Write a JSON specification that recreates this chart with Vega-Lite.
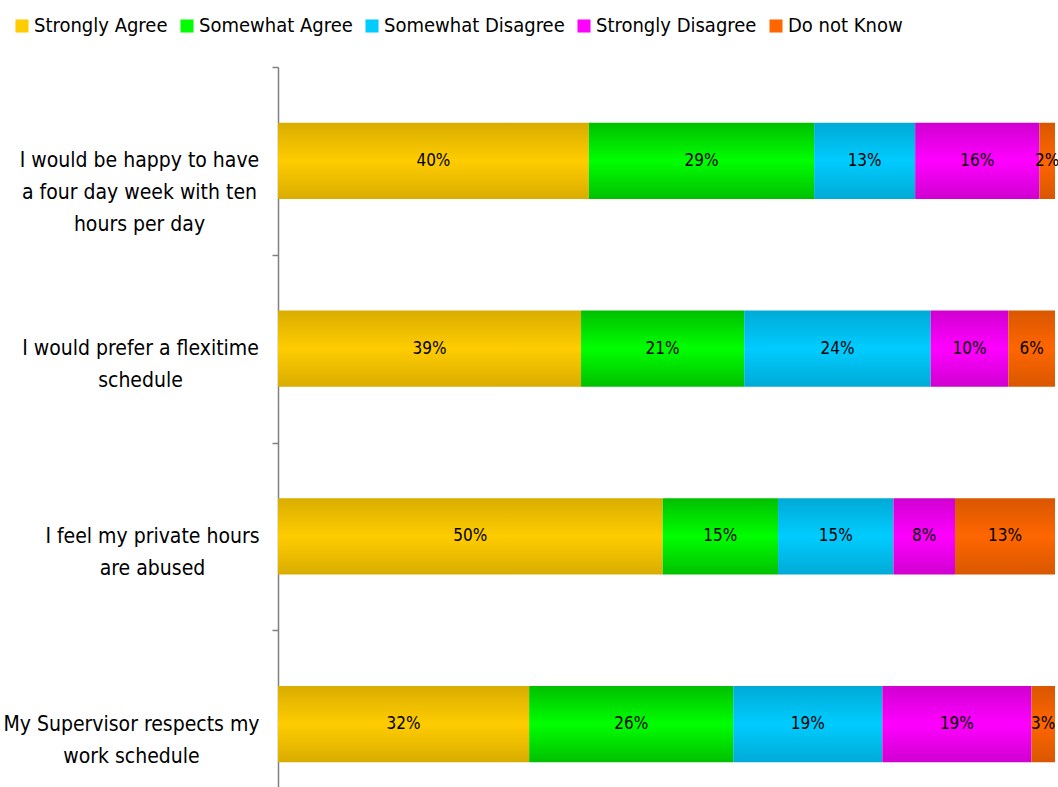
{
  "$schema": "https://vega.github.io/schema/vega-lite/v6.json",
  "autosize": {"type": "none"},
  "padding": {"left": 278, "top": 67, "right": 3, "bottom": 0},
  "width": 777,
  "height": 751,
  "background": "white",
  "config": {"view": {"stroke": null}, "font": "DejaVu Sans Condensed"},
  "data": {
    "values": [
      {"question": "I would be happy to have a four day week with ten hours per day", "response": "Strongly Agree", "k": 1, "pct": 0.40},
      {"question": "I would be happy to have a four day week with ten hours per day", "response": "Somewhat Agree", "k": 2, "pct": 0.29},
      {"question": "I would be happy to have a four day week with ten hours per day", "response": "Somewhat Disagree", "k": 3, "pct": 0.13},
      {"question": "I would be happy to have a four day week with ten hours per day", "response": "Strongly Disagree", "k": 4, "pct": 0.16},
      {"question": "I would be happy to have a four day week with ten hours per day", "response": "Do not Know", "k": 5, "pct": 0.02},
      {"question": "I would prefer a flexitime schedule", "response": "Strongly Agree", "k": 1, "pct": 0.39},
      {"question": "I would prefer a flexitime schedule", "response": "Somewhat Agree", "k": 2, "pct": 0.21},
      {"question": "I would prefer a flexitime schedule", "response": "Somewhat Disagree", "k": 3, "pct": 0.24},
      {"question": "I would prefer a flexitime schedule", "response": "Strongly Disagree", "k": 4, "pct": 0.10},
      {"question": "I would prefer a flexitime schedule", "response": "Do not Know", "k": 5, "pct": 0.06},
      {"question": "I feel my private hours are abused", "response": "Strongly Agree", "k": 1, "pct": 0.50},
      {"question": "I feel my private hours are abused", "response": "Somewhat Agree", "k": 2, "pct": 0.15},
      {"question": "I feel my private hours are abused", "response": "Somewhat Disagree", "k": 3, "pct": 0.15},
      {"question": "I feel my private hours are abused", "response": "Strongly Disagree", "k": 4, "pct": 0.08},
      {"question": "I feel my private hours are abused", "response": "Do not Know", "k": 5, "pct": 0.13},
      {"question": "My Supervisor respects my work schedule", "response": "Strongly Agree", "k": 1, "pct": 0.32},
      {"question": "My Supervisor respects my work schedule", "response": "Somewhat Agree", "k": 2, "pct": 0.26},
      {"question": "My Supervisor respects my work schedule", "response": "Somewhat Disagree", "k": 3, "pct": 0.19},
      {"question": "My Supervisor respects my work schedule", "response": "Strongly Disagree", "k": 4, "pct": 0.19},
      {"question": "My Supervisor respects my work schedule", "response": "Do not Know", "k": 5, "pct": 0.03}
    ]
  },
  "transform": [
    {"stack": "pct", "groupby": ["question"], "sort": [{"field": "k", "order": "ascending"}], "offset": "normalize", "as": ["x0", "x1"]},
    {"calculate": "(datum.x0 + datum.x1) / 2", "as": "xm"}
  ],
  "encoding": {
    "y": {
      "field": "question",
      "type": "nominal",
      "sort": [
        "I would be happy to have a four day week with ten hours per day",
        "I would prefer a flexitime schedule",
        "I feel my private hours are abused",
        "My Supervisor respects my work schedule"
      ],
      "scale": {"paddingInner": 0, "paddingOuter": 0},
      "axis": {
        "title": null,
        "orient": "left",
        "domainColor": "#808080",
        "domainWidth": 1.5,
        "tickBand": "extent",
        "tickColor": "#808080",
        "tickWidth": 1.5,
        "tickSize": 6,
        "labelAlign": "center",
        "labelBaseline": "middle",
        "labelPadding": {
          "condition": [
            {"test": "datum.value === 'I would prefer a flexitime schedule'", "value": 132},
            {"test": "datum.value === 'I feel my private hours are abused'", "value": 120},
            {"test": "datum.value === 'My Supervisor respects my work schedule'", "value": 141}
          ],
          "value": 133
        },
        "labelFont": "DejaVu Sans Condensed",
        "labelFontSize": 21,
        "labelLineHeight": 32,
        "labelColor": "#000000",
        "labelLimit": 0,
        "labelExpr": "{'I would be happy to have a four day week with ten hours per day': ['I would be happy to have', 'a four day week with ten', 'hours per day'], 'I would prefer a flexitime schedule': ['I would prefer a flexitime', 'schedule'], 'I feel my private hours are abused': ['I feel my private hours', 'are abused'], 'My Supervisor respects my work schedule': ['My Supervisor respects my', 'work schedule']}[datum.value]"
      }
    }
  },
  "layer": [
    {
      "mark": {
        "type": "bar",
        "height": {"band": 0.405},
        "fill": {"expr": "{gradient: 'linear', x1: 0, y1: 0, x2: 0, y2: 1, stops: [{offset: 0, color: {'Strongly Agree': '#d9ad00', 'Somewhat Agree': '#00c000', 'Somewhat Disagree': '#00aad6', 'Strongly Disagree': '#d000d0', 'Do not Know': '#d95700'}[datum.response]}, {offset: 0.5, color: {'Strongly Agree': '#ffcc00', 'Somewhat Agree': '#00ff00', 'Somewhat Disagree': '#00ccff', 'Strongly Disagree': '#ff00ff', 'Do not Know': '#ff6600'}[datum.response]}, {offset: 1, color: {'Strongly Agree': '#d9ad00', 'Somewhat Agree': '#00c000', 'Somewhat Disagree': '#00aad6', 'Strongly Disagree': '#d000d0', 'Do not Know': '#d95700'}[datum.response]}]}"}
      },
      "encoding": {
        "x": {"field": "x0", "type": "quantitative", "scale": {"domain": [0, 1], "nice": false}, "axis": null},
        "x2": {"field": "x1"}
      }
    },
    {
      "mark": {"type": "bar", "height": {"band": 0.405}, "opacity": 0},
      "encoding": {
        "x": {"field": "x0", "type": "quantitative"},
        "x2": {"field": "x1"},
        "color": {
          "field": "response",
          "type": "nominal",
          "scale": {
            "domain": ["Strongly Agree", "Somewhat Agree", "Somewhat Disagree", "Strongly Disagree", "Do not Know"],
            "range": ["#ffcc00", "#00ff00", "#00ccff", "#ff00ff", "#ff6600"]
          },
          "legend": {
            "orient": "none",
            "legendX": -266,
            "legendY": -51,
            "direction": "horizontal",
            "title": null,
            "symbolType": "square",
            "symbolSize": 170,
            "symbolStrokeWidth": 0,
            "symbolOpacity": 1,
            "labelFont": "DejaVu Sans Condensed",
            "labelFontSize": 20,
            "labelColor": "#000000",
            "labelOffset": 2,
            "labelLimit": 0,
            "columnPadding": 9,
            "encode": {
              "symbols": {
                "update": {
                  "opacity": {"value": 1},
                  "fill": {"signal": "{gradient: 'linear', x1: 0, y1: 0, x2: 0, y2: 1, stops: [{offset: 0, color: {'Strongly Agree': '#d9ad00', 'Somewhat Agree': '#00c000', 'Somewhat Disagree': '#00aad6', 'Strongly Disagree': '#d000d0', 'Do not Know': '#d95700'}[datum.value]}, {offset: 0.5, color: {'Strongly Agree': '#ffcc00', 'Somewhat Agree': '#00ff00', 'Somewhat Disagree': '#00ccff', 'Strongly Disagree': '#ff00ff', 'Do not Know': '#ff6600'}[datum.value]}, {offset: 1, color: {'Strongly Agree': '#d9ad00', 'Somewhat Agree': '#00c000', 'Somewhat Disagree': '#00aad6', 'Strongly Disagree': '#d000d0', 'Do not Know': '#d95700'}[datum.value]}]}"}
                }
              }
            }
          }
        }
      }
    },
    {
      "mark": {"type": "text", "font": "DejaVu Sans Condensed", "fontSize": 17, "color": "#000000"},
      "encoding": {
        "x": {"field": "xm", "type": "quantitative"},
        "text": {"field": "pct", "type": "quantitative", "format": ".0%"}
      }
    }
  ]
}
